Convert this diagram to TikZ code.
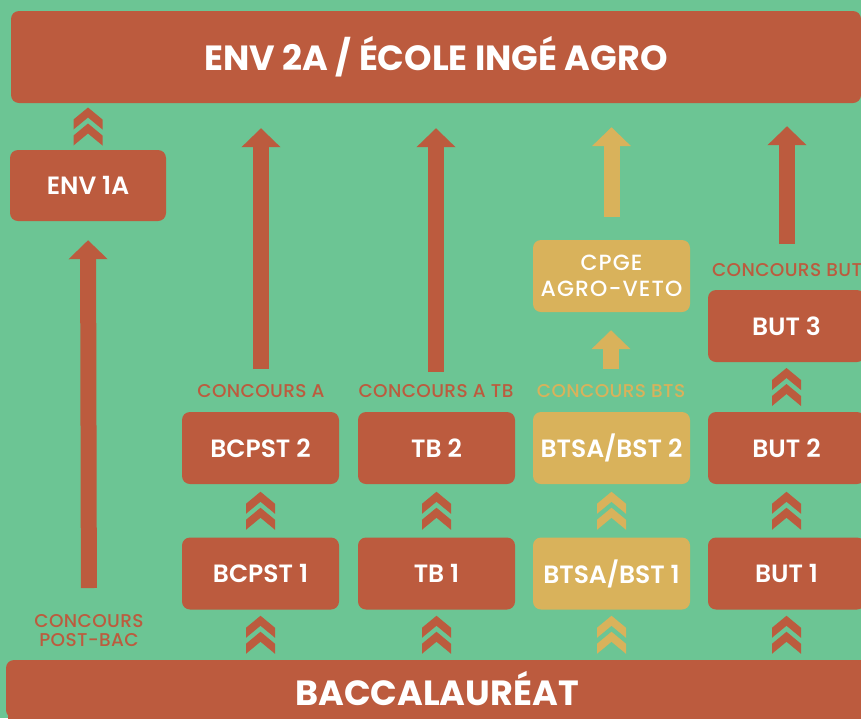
\documentclass[tikz,border=0pt]{standalone}
\usepackage{fontspec}
\setmainfont{Poppins}
\newfontfamily\psemi{Poppins SemiBold}
\newfontfamily\pmedwide{Poppins Medium}[LetterSpace=5]
\newfontfamily\pmedlab{Poppins Medium}[LetterSpace=2]
\usetikzlibrary{arrows.meta,calc}
\definecolor{bg}{HTML}{6CC594}
\definecolor{rust}{HTML}{BC5B3E}
\definecolor{gold}{HTML}{D9B25B}
\tikzset{
  box/.style={rectangle, rounded corners=8pt, fill=rust, text=white, minimum width=157pt, minimum height=72pt, inner sep=0pt, font=\psemi\fontsize{25}{30}\selectfont, align=center},
  goldbox/.style={box, fill=gold},
  lab/.style={inner sep=0pt, text=rust, font=\pmedlab\fontsize{18.5}{19}\selectfont, align=center},
  goldlab/.style={lab, text=gold},
  bigarrow/.style={draw=rust, line width=16pt, -{Triangle[width=38pt,length=19pt]}},
  goldarrow/.style={bigarrow, draw=gold, fill=gold},
  chev/.pic={
    \fill[pic actions] (0,-19) -- (14.5,-7) -- (14.5,3) -- (0,-9) -- (-14.5,3) -- (-14.5,-7) -- cycle;
    \fill[pic actions] (0,-3) -- (14.5,9) -- (14.5,19) -- (0,7) -- (-14.5,19) -- (-14.5,9) -- cycle;
  }
}
\begin{document}
\begin{tikzpicture}[x=1pt,y=-1pt]
\fill[bg] (0,0) rectangle (861,718);
\useasboundingbox (0,0) rectangle (861,718);

% top and bottom bars
\node[box, minimum width=850pt, minimum height=92pt, font=\bfseries\fontsize{35}{40}\selectfont] (top) at (436,57) {ENV 2A / ÉCOLE INGÉ AGRO};
\fill[rust] (8,680) rectangle (870,730);
\node[box, minimum width=862pt, minimum height=58pt, font=\bfseries\fontsize{35}{40}\selectfont] (bac) at (437,689) {BACCALAURÉAT};

% column 1
\node[box, minimum width=156pt, minimum height=71pt] (env1a) at (88,185.5) {ENV 1A};
\node[lab] (postbac) at (89,631) {CONCOURS\\POST-BAC};

% column 2
\node[box] (bcpst1) at (260.5,573.5) {BCPST 1};
\node[box] (bcpst2) at (260.5,448) {BCPST 2};
\node[lab] (concA) at (261,391) {CONCOURS A};

% column 3
\node[box] (tb1) at (436.5,573.5) {TB 1};
\node[box] (tb2) at (436.5,448) {TB 2};
\node[lab] (concATB) at (436,391) {CONCOURS A TB};

% column 4
\node[goldbox] (bts1) at (611.5,573.5) {BTSA/BST 1};
\node[goldbox] (bts2) at (611.5,448) {BTSA/BST 2};
\node[goldlab] (concBTS) at (611,391) {CONCOURS BTS};
\node[goldbox, font=\pmedwide\fontsize{22}{26}\selectfont] (cpge) at (611.5,276) {CPGE\\AGRO-VETO};

% column 5
\node[box] (but1) at (786.5,573.5) {BUT 1};
\node[box] (but2) at (786.5,448) {BUT 2};
\node[box] (but3) at (786.5,326) {BUT 3};
\node[lab] (concBUT) at (787,270) {CONCOURS BUT};

% arrows
\draw[bigarrow, shorten <=43pt, shorten >=19pt] (postbac.center) -- (env1a.south);
\draw[bigarrow, shorten <=22pt, shorten >=25pt] (concA.center) -- (concA.center |- top.south);
\draw[bigarrow, shorten <=19pt, shorten >=25pt] (concATB.center) -- (concATB.center |- top.south);
\draw[goldarrow, shorten <=23pt, shorten >=24pt] (cpge.north) -- (cpge.north |- top.south);
\draw[goldarrow, shorten <=22pt, shorten >=18pt] (concBTS.center) -- (concBTS.center |- cpge.south);
\draw[bigarrow, shorten <=26pt, shorten >=23pt] (concBUT.center) -- (concBUT.center |- top.south);

% chevrons
\pic[rust] at ($(env1a.north)!0.5!(env1a.north |- top.south)$) {chev};
\pic[rust] at ($(bcpst1.south)!0.5!(bcpst1.south |- bac.north)$) {chev};
\pic[rust] at ($(bcpst1.north)!0.5!(bcpst2.south)$) {chev};
\pic[rust] at ($(tb1.south)!0.5!(tb1.south |- bac.north)$) {chev};
\pic[rust] at ($(tb1.north)!0.5!(tb2.south)$) {chev};
\pic[gold] at ($(bts1.south)!0.5!(bts1.south |- bac.north)$) {chev};
\pic[gold] at ($(bts1.north)!0.5!(bts2.south)$) {chev};
\pic[rust] at ($(but1.south)!0.5!(but1.south |- bac.north)$) {chev};
\pic[rust] at ($(but1.north)!0.5!(but2.south)$) {chev};
\pic[rust] at ($(but2.north)!0.5!(but3.south)$) {chev};
\end{tikzpicture}
\end{document}
